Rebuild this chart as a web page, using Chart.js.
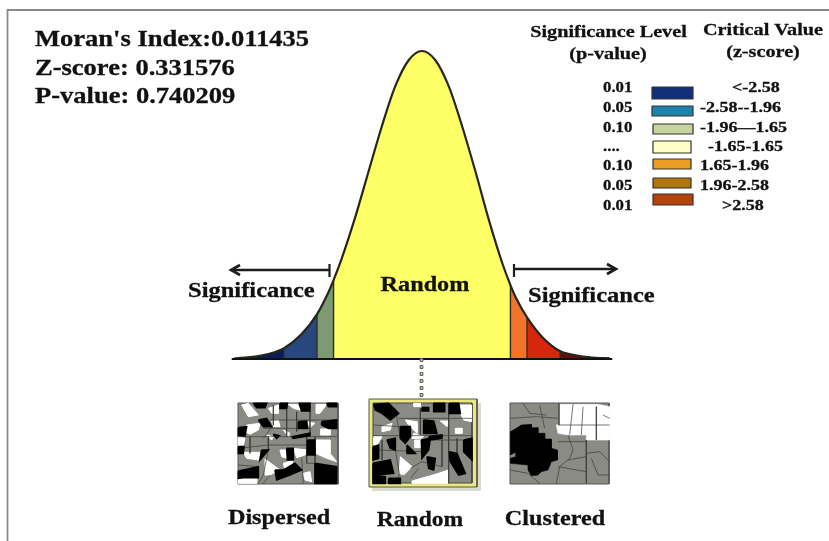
<!DOCTYPE html>
<html><head><meta charset="utf-8">
<style>html,body{margin:0;padding:0;background:#fff}canvas{display:block;filter:blur(0.45px)}</style>
<script src="https://cdn.jsdelivr.net/npm/chart.js@4"></script></head>
<body><canvas id="c" width="829" height="541"></canvas>
<script>
// bell curve (z-score, relative height)
const curveZ =       [-3.5,-3.25,-3,-2.75,-2.58,-2.25,-1.96,-1.75,-1.65,-1.5,-1.25,-1,-0.75,-0.5,-0.25,0,0.25,0.5,0.75,1,1.25,1.5,1.65,1.75,1.96,2.25,2.58,2.75,3,3.25,3.5];
const curveHeight =  [0.002,0.005,0.011,0.022,0.034,0.08,0.145,0.215,0.256,0.325,0.458,0.607,0.755,0.885,0.97,1,0.97,0.885,0.755,0.607,0.45,0.31,0.24,0.2,0.135,0.07,0.025,0.016,0.008,0.004,0.002];
const bandEdges =  [-3.5,-2.58,-1.96,-1.65,1.65,1.96,2.58,3.5];
const bandColors = ['#0b1c5c','#27477e','#7d9a72','#ffff66','#f2742a','#d6260e','#6e0a0a'];

// legend
const pValues = ['0.01','0.05','0.10','....','0.10','0.05','0.01'];
const zRanges = ['<-2.58','-2.58--1.96','-1.96\u20141.65','-1.65-1.65','1.65-1.96','1.96-2.58','>2.58'];
const swatchColors = ['#12307a','#1d83ab','#c6d59f','#ffffc4','#eb9f1e','#b0760f','#b5420a'];
const statLines = ["Moran's Index:0.011435",'Z-score: 0.331576','P-value: 0.740209'];
const mapNames = ['Dispersed','Random','Clustered'];

// map thumbnails, outlines (crop units, 3 per px)
const dispersedBlack = [[70,25,110,25,105,38,80,38],[150,25,172,25,170,40,150,40],[207,25,240,25,240,48,215,48],[290,25,320,25,320,35,295,35],[85,75,110,70,125,95,100,95],[205,80,230,78,232,100,205,100],[275,80,320,75,320,100,295,100,275,90],[25,98,50,95,45,122,25,122],[185,125,240,115,240,122,190,130],[130,118,148,122,140,130],[232,135,255,135,255,180,232,180],[25,155,42,155,40,175,25,175],[170,160,190,160,190,195,172,195],[95,165,115,165,90,195],[135,225,160,225,195,205,215,225,180,240,140,255],[25,228,85,215,85,248,40,248,25,250],[255,205,320,215,320,265,255,265]];
const dispersedWhite = [[35,30,55,25,85,60,55,65],[115,40,145,30,145,55,125,55],[175,28,205,28,210,45,190,40],[258,28,290,28,270,55,258,55],[125,78,145,75,150,95,130,95],[232,80,255,85,240,97],[50,90,90,85,85,105,60,118,45,110],[272,102,300,102,300,120,272,120],[160,105,180,115,175,125],[110,120,130,125,125,135],[25,125,45,130,40,152,25,152],[256,135,300,135,300,175,320,200,290,190,256,175],[150,165,170,165,170,190,155,185],[190,160,232,165,225,180,200,188],[40,172,90,172,85,195,50,190],[105,192,150,225,120,240,105,240],[160,205,190,195,180,220,165,225],[25,250,80,250,80,265,25,265],[220,235,240,230,245,260,225,255]];
const dispersedLines = [[120,75,320,75],[25,125,320,125],[255,125,255,265],[170,25,170,125],[100,100,240,100],[115,125,115,165,100,240,85,265],[25,160,115,150,230,150],[230,125,230,205,255,205],[130,30,130,90,100,130],[60,125,60,175],[200,50,200,110],[240,50,240,115],[215,190,220,265],[120,240,100,265],[25,210,85,215]];
const randomBlack = [[35,28,80,25,110,55,85,75,60,55,40,45],[180,38,200,38,200,48,180,48],[215,25,248,25,248,50,215,50],[262,25,290,25,295,55,262,55],[115,95,145,95,145,125,130,145,115,130],[185,75,215,78,225,115,185,115],[75,135,100,130,100,165,85,160],[200,125,240,120,240,130,205,135],[178,135,205,130,200,165,180,190],[135,150,160,175,135,175],[33,155,50,150,50,190,33,195],[305,135,330,130,330,195,305,170],[262,170,285,175,310,235,290,240,265,200],[195,185,220,190,215,225,200,220],[33,205,85,195,95,235,40,240,33,240],[33,240,70,245,70,265,33,265],[80,250,115,250,115,265,80,265]];
const randomWhite = [[295,30,328,30,328,80,305,75,295,55],[155,25,175,25,175,35,155,35],[60,95,90,85,85,105,60,110],[130,75,165,80,165,115,140,90],[35,125,60,125,45,150,35,150],[155,115,185,125,175,130,150,130],[158,135,178,135,178,158,158,158],[235,78,260,78,255,95],[280,100,300,100,300,115,280,115],[115,185,150,215,125,240,112,235],[150,258,230,235,258,225,258,265,150,265]];
const randomLines = [[110,70,330,70],[33,122,330,122],[260,25,260,265],[175,40,175,120],[100,40,115,130],[50,165,180,170],[240,135,240,215],[33,90,115,95],[145,220,180,200,240,215],[100,165,112,235,105,265],[210,135,305,135],[285,130,285,175],[60,135,60,195],[145,250,170,220]];
const clusterBlack = [22,110,40,100,55,90,85,88,85,98,105,98,105,115,125,115,125,132,145,132,145,160,163,165,163,195,145,200,135,225,115,230,105,240,85,242,75,225,75,210,22,205,22,190,38,185,38,172,22,180];
const clusterWhite = [168,28,285,28,320,35,320,135,250,135,250,120,195,120,165,115,160,90,168,88];
const clusterLines = [[250,135,250,265],[168,25,168,90],[22,70,100,65,165,70],[60,25,80,55,130,60],[110,30,125,100],[195,120,210,165,200,190,170,215,160,265],[165,140,250,140],[250,175,290,170,320,200],[265,190,285,240,320,240],[22,225,75,235,110,265],[165,215,250,230],[195,195,250,185],[210,28,200,120],[240,35,235,120],[165,90,320,90],[280,35,280,135],[300,60,320,70]];
const cropOrigins = {dispersed:[230,395], random:[362,395], clustered:[503,395]};

const pts = (flat,o) => { const r=[]; for(let i=0;i<flat.length;i+=2) r.push({x:o[0]+flat[i]/3,y:o[1]+flat[i+1]/3}); return r; };
const shape = (data,color,line,w) => ({data:[...data,data[0]],xAxisID:'px',yAxisID:'py',fill:'shape',backgroundColor:color,borderColor:line||color,borderWidth:w===undefined?0.6:w,pointRadius:0,tension:0});
const path = (data,color,w) => ({data,xAxisID:'px',yAxisID:'py',fill:false,borderColor:color,borderWidth:w,pointRadius:0,tension:0});
const box = (x0,y0,x1,y1) => [{x:x0,y:y0},{x:x1,y:y0},{x:x1,y:y1},{x:x0,y:y1}];
const curvePts = curveZ.map((z,i)=>({x:z,y:curveHeight[i]}));
const heightAt = z => curveHeight[curveZ.indexOf(z)];

const ds = [];
// page frame
ds.push(path([{x:7.5,y:541},{x:7.5,y:10},{x:829,y:10}],'#8a8a8a',1.8));
// bands of the curve
bandColors.forEach((col,i)=>{
  ds.push({data:curvePts.filter(p=>p.x>=bandEdges[i]&&p.x<=bandEdges[i+1]),fill:{value:0},backgroundColor:col,borderColor:'rgba(0,0,0,0)',borderWidth:0,pointRadius:0,cubicInterpolationMode:'monotone'});
});
bandEdges.slice(1,-1).forEach(z=>{
  ds.push({data:[{x:z,y:0},{x:z,y:heightAt(z)}],fill:false,borderColor:'#2a2a20',borderWidth:1.4,pointRadius:0});
});
ds.push({data:curvePts,fill:false,borderColor:'#26261c',borderWidth:2.2,pointRadius:0,cubicInterpolationMode:'monotone'});
ds.push({data:[{x:-3.55,y:0},{x:3.55,y:0}],fill:false,borderColor:'#111',borderWidth:2,pointRadius:0});
// arrows
ds.push(path([{x:232,y:270},{x:330,y:270}],'#1c1c1c',2.4));
ds.push(path([{x:329.5,y:264},{x:329.5,y:277}],'#1c1c1c',2.2));
ds.push(path([{x:240,y:265},{x:231,y:270},{x:240,y:275}],'#1c1c1c',2.6));
ds.push(path([{x:514,y:269},{x:615,y:269}],'#1c1c1c',2.4));
ds.push(path([{x:514,y:264},{x:514,y:277}],'#1c1c1c',2.2));
ds.push(path([{x:607,y:264},{x:616,y:269},{x:607,y:274}],'#1c1c1c',2.6));
// dotted connector
ds.push({data:[360,367,374,381,388,395].map(y=>({x:421.5,y})),xAxisID:'px',yAxisID:'py',showLine:false,pointStyle:'rect',pointRadius:2,backgroundColor:'#cfcfb0',borderColor:'#55554a',borderWidth:1});
// legend swatches
const swatchBoxes = [[652,87,693,99],[652,106,693,116],[653,124,693,134],[653,141,691,153],[653,159,691,169],[653,178,691,188],[653,194,693,205]];
swatchColors.forEach((c,i)=>ds.push(shape(box(...swatchBoxes[i]),c,'#333',1.2)));
// dispersed map
const mapGrey='#8b8b85', mapLine='#3a3a38';
ds.push(shape(box(238,403,338,484),mapGrey,'#555',1));
dispersedWhite.forEach(p=>ds.push(shape(pts(p,cropOrigins.dispersed),'#fff','#fff',1)));
dispersedLines.forEach(p=>ds.push(path(pts(p,cropOrigins.dispersed),mapLine,0.7)));
dispersedBlack.forEach(p=>ds.push(shape(pts(p,cropOrigins.dispersed),'#000','#000',1.6)));
// random map with its frame and shadow
ds.push(shape(box(372,403,481,491),'rgba(150,150,115,0.35)','rgba(0,0,0,0)',0));
ds.push(shape(box(369,399,477,487),'#e9e97e','#55554a',1));
ds.push(shape(box(373,403,472,483),mapGrey,'#444',1));
randomWhite.forEach(p=>ds.push(shape(pts(p,cropOrigins.random),'#fff','#fff',1)));
randomLines.forEach(p=>ds.push(path(pts(p,cropOrigins.random),mapLine,0.7)));
randomBlack.forEach(p=>ds.push(shape(pts(p,cropOrigins.random),'#000','#000',1.6)));
// clustered map
ds.push(shape(box(510,403,609,484),mapGrey,'#555',1));
ds.push(shape(pts(clusterWhite,cropOrigins.clustered),'#fff'));
clusterLines.forEach(p=>ds.push(path(pts(p,cropOrigins.clustered),mapLine,0.7)));
ds.push(shape(pts(clusterBlack,cropOrigins.clustered),'#000'));

const serif = s => `bold ${s}px "Liberation Serif"`;
const textPlugin = {id:'labels',afterDraw(chart){
  const c=chart.ctx, X=chart.scales.px, Y=chart.scales.py;
  const put=(t,x,y,s,h,a)=>{
    c.save();
    c.font=serif(s);c.textAlign=a||'left';c.textBaseline='alphabetic';c.fillStyle='#111';c.strokeStyle='#111';c.lineWidth=0.3;
    c.translate(X.getPixelForValue(x),Y.getPixelForValue(y));c.scale(h,1);
    c.fillText(t,0,0);c.strokeText(t,0,0);
    c.restore();
  };
  [46,75,103].forEach((y,i)=>put(statLines[i],35,y,24,1.105));
  put('Significance Level',608.5,37,17.5,1.155,'center');
  put('(p-value)',608,59,17.5,1.155,'center');
  put('Critical Value',763,35,17.5,1.155,'center');
  put('(z-score)',763,57,17.5,1.155,'center');
  const rowY=[92,112,132,151,170,190,210];
  const zX=[732,700,700,708,700,700,722];
  pValues.forEach((t,i)=>put(t,603,rowY[i],15,1.12));
  zRanges.forEach((t,i)=>put(t,zX[i],rowY[i],15,1.2));
  put('Significance',188,297,22,1.115);
  put('Significance',528,302,22,1.115);
  put('Random',425,291,22,1.1,'center');
  put(mapNames[0],279,524,22,1.1,'center');
  put(mapNames[1],420,526,22,1.07,'center');
  put(mapNames[2],555,525,22,1.1,'center');
}};

new Chart(document.getElementById('c'),{
  type:'line',
  data:{datasets:ds.slice().reverse()},
  options:{
    responsive:false,animation:false,
    layout:{padding:0,autoPadding:false},
    plugins:{legend:{display:false},tooltip:{enabled:false}},
    scales:{
      x:{type:'linear',display:false,min:-422/53.6,max:407/53.6},
      y:{type:'linear',display:false,min:-182/308,max:359/308},
      px:{type:'linear',axis:'x',display:false,min:0,max:829},
      py:{type:'linear',axis:'y',display:false,min:0,max:541,reverse:true}
    }
  },
  plugins:[textPlugin]
});
</script></body></html>
